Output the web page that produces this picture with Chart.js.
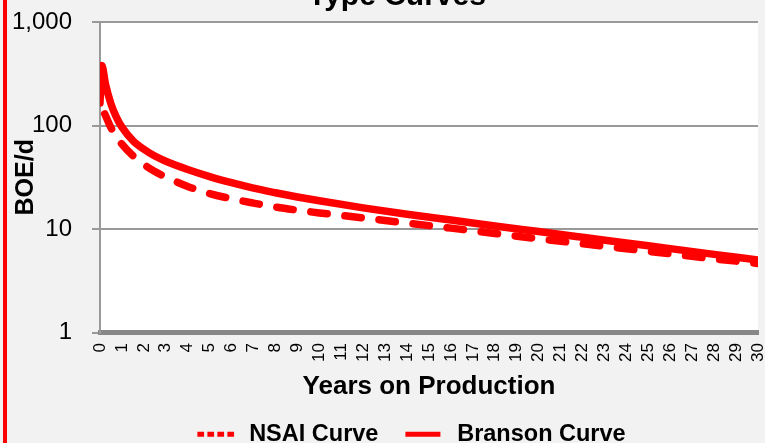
<!DOCTYPE html>
<html>
<head>
<meta charset="utf-8">
<script src="https://cdn.jsdelivr.net/npm/chart.js@4.4.1/dist/chart.umd.min.js"></script>
<style>
  html, body { margin: 0; padding: 0; background: #f2f2f2; overflow: hidden; }
  #wrap { position: relative; width: 765px; height: 443px; overflow: hidden; }
  #c { position: absolute; left: 0; top: 0; }
  #edge { position: absolute; left: 3px; top: 0; width: 4px; height: 443px; background: #ff0000; }
</style>
</head>
<body>
<div id="wrap">
  <canvas id="c" width="823" height="456"></canvas>
  <div id="edge"></div>
</div>
<script>
// Type curve data: rate in BOE/d against years on production
const chartTitle = 'Type Curves';
const seriesNames = ['NSAI Curve', 'Branson Curve'];
const years   = [0, 0.083, 0.25, 0.5, 0.75, 1, 1.5, 2, 2.5, 3, 4, 5, 6, 7, 8, 9, 10, 12, 14, 16, 18, 20, 22, 24, 26, 28, 30];
const nsai    = [165, 150, 125, 95, 78, 66, 51, 42, 36, 31.8, 25.8, 22, 19.6, 17.8, 16.3, 15.2, 14.3, 12.8, 11.4, 10.2, 9.05, 8.05, 7.2, 6.45, 5.75, 5.15, 4.65];
const branson = [165, 380, 251, 162, 120, 96.6, 71.6, 58.9, 50.7, 45.2, 37.6, 32.1, 28.0, 24.8, 22.4, 20.4, 18.75, 16.0, 13.9, 12.2, 10.7, 9.44, 8.32, 7.33, 6.46, 5.69, 5.01];
const yTickValues = [1, 10, 100, 1000];
const xAxisTitle = 'Years on Production';
const yAxisTitle = 'BOE/d';

const FONT = '"Liberation Sans", Arial, sans-serif';
Chart.defaults.font.family = FONT;
Chart.defaults.color = '#000000';

const toPoints = vals => years.map((x, i) => ({ x, y: vals[i] }));

// white plot area on the grey page
const plotBackground = {
  id: 'plotBackground',
  beforeDraw(chart) {
    const { ctx, chartArea: a } = chart;
    ctx.save();
    ctx.fillStyle = '#ffffff';
    ctx.fillRect(a.left, a.top, a.right - a.left, a.bottom - a.top);
    ctx.restore();
  }
};

// chart heading, partly above the top edge
const headingText = {
  id: 'headingText',
  afterDraw(chart) {
    const ctx = chart.ctx;
    ctx.save();
    ctx.font = 'bold 30px ' + FONT;
    ctx.fillStyle = '#000000';
    ctx.textAlign = 'center';
    ctx.textBaseline = 'alphabetic';
    ctx.fillText(chartTitle, 397, 5);
    ctx.restore();
  }
};

new Chart(document.getElementById('c'), {
  type: 'line',
  data: {
    datasets: [
      {
        label: seriesNames[0],
        data: toPoints(nsai),
        borderColor: '#ff0000',
        backgroundColor: '#ff0000',
        borderWidth: 7.5,
        borderDash: [16.5, 17.8],
        borderDashOffset: 22.5,
        borderCapStyle: 'round',
        borderJoinStyle: 'round',
        pointRadius: 0,
        cubicInterpolationMode: 'monotone',
        fill: false
      },
      {
        label: seriesNames[1],
        data: toPoints(branson),
        borderColor: '#ff0000',
        backgroundColor: '#ff0000',
        borderWidth: 7.5,
        borderCapStyle: 'round',
        borderJoinStyle: 'round',
        pointRadius: 0,
        cubicInterpolationMode: 'monotone',
        fill: false
      }
    ]
  },
  options: {
    responsive: false,
    animation: false,
    devicePixelRatio: 1,
    layout: { padding: { left: 0, right: 0, top: 22, bottom: 0 } },
    plugins: {
      title: { display: false },
      tooltip: { enabled: false },
      legend: {
        position: 'bottom',
        labels: {
          usePointStyle: true,
          pointStyleWidth: 40,
          padding: 27,
          font: { size: 23.5, weight: 'bold' },
          color: '#000000',
          generateLabels(chart) {
            return chart.data.datasets.map((ds, i) => ({
              text: ds.label,
              fillStyle: ds.borderColor,
              strokeStyle: ds.borderColor,
              fontColor: '#000000',
              lineWidth: 5,
              lineCap: 'butt',
              lineDash: i === 0 ? [6.7, 3.3] : [35, 100],
              lineDashOffset: 0,
              pointStyle: 'line',
              rotation: 180,
              hidden: false,
              datasetIndex: i
            }));
          }
        }
      }
    },
    scales: {
      x: {
        type: 'linear',
        min: 0,
        max: 30,
        grid: { display: false, drawTicks: false },
        border: { display: true, color: '#888888', width: 5 },
        ticks: {
          stepSize: 1,
          autoSkip: false,
          minRotation: 90,
          maxRotation: 90,
          padding: 10.5,
          font: { size: 17 },
          color: '#000000'
        },
        title: {
          display: true,
          text: xAxisTitle,
          font: { size: 26, weight: 'bold' },
          color: '#000000',
          padding: { top: 0, bottom: -7 }
        },
        afterFit(scale) {
          scale.height = 63;
          scale.paddingLeft = 0;
          scale.paddingRight = 0;
        }
      },
      y: {
        type: 'logarithmic',
        min: 1,
        max: 1000,
        afterBuildTicks(scale) {
          scale.ticks = yTickValues.map(v => ({ value: v }));
        },
        grid: { color: '#999999', lineWidth: 2, tickLength: 8, tickColor: '#999999' },
        border: { display: true, color: '#999999', width: 2 },
        ticks: {
          padding: 20,
          font: { size: 24 },
          color: '#000000',
          callback: v => Number(v).toLocaleString('en-US')
        },
        title: {
          display: true,
          text: yAxisTitle,
          font: { size: 25, weight: 'bold' },
          color: '#000000',
          padding: { top: 11, bottom: 0 }
        },
        afterFit(scale) {
          scale.width = 100;
          scale.paddingTop = 0;
          scale.paddingBottom = 0;
        }
      },
      // empty right-hand margin beside the plot
      margin: {
        type: 'linear',
        position: 'right',
        display: true,
        grid: { display: false, drawTicks: false },
        border: { display: false },
        ticks: { display: false },
        afterFit(scale) {
          scale.width = 65;
          scale.paddingTop = 0;
          scale.paddingBottom = 0;
        }
      }
    }
  },
  plugins: [plotBackground, headingText]
});
</script>
</body>
</html>
